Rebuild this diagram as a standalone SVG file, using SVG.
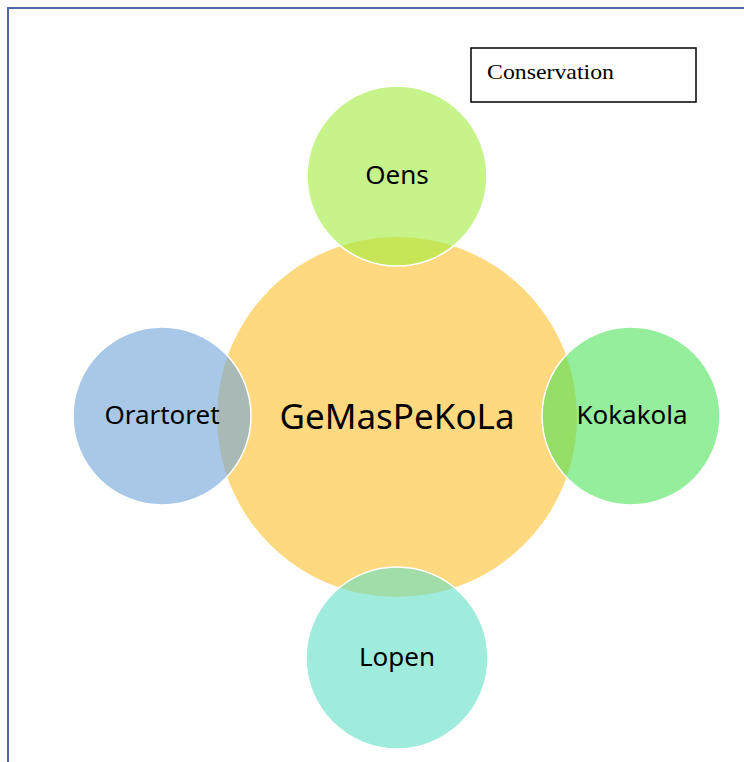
<svg xmlns="http://www.w3.org/2000/svg" width="744" height="762" viewBox="0 0 744 762">
<style>
.lbl{font-family:"Noto Sans","Open Sans",sans-serif;fill:#000;text-anchor:middle;dominant-baseline:central}
.sm{stroke:#fff;stroke-width:1.5;fill-opacity:0.6}
</style>
<rect x="0" y="0" width="744" height="762" fill="#fff"/>
<rect x="8" y="8" width="760" height="780" fill="none" stroke="#4a6aa6" stroke-width="2"/>
<g id="conservation">
<rect x="471" y="48" width="225" height="54" fill="#fff" stroke="#000" stroke-width="1.5"/>
<text x="487" y="79" font-family="Liberation Serif,serif" font-size="22" textLength="127" lengthAdjust="spacingAndGlyphs">Conservation</text>
</g>
<g id="center">
<circle cx="397" cy="417" r="180" fill="#ffd97f"/>
<text class="lbl" x="397" y="415" font-size="35">GeMasPeKoLa</text>
</g>
<g id="oens">
<circle class="sm" cx="397" cy="176" r="90" fill="#a0ed3c"/>
<text class="lbl" x="397" y="174" font-size="26">Oens</text>
</g>
<g id="orartoret">
<circle class="sm" cx="162" cy="416" r="89" fill="#70a3d9"/>
<text class="lbl" x="162" y="414" font-size="26">Orartoret</text>
</g>
<g id="kokakola">
<circle class="sm" cx="631" cy="416" r="89" fill="#4ee35a"/>
<text class="lbl" x="632" y="414" font-size="26">Kokakola</text>
</g>
<g id="lopen">
<circle class="sm" cx="397" cy="658" r="91" fill="#61dfc5"/>
<text class="lbl" x="397" y="656" font-size="26">Lopen</text>
</g>
<g id="connectors"></g>
</svg>
